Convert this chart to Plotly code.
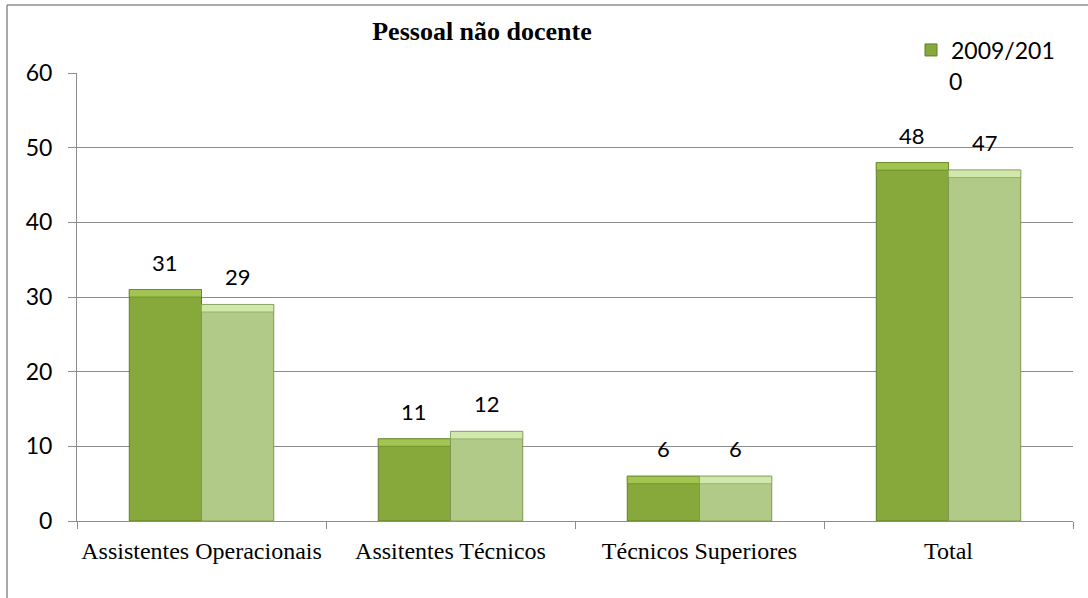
import plotly.graph_objects as go

categories = ["Assistentes Operacionais", "Assitentes Técnicos", "Técnicos Superiores", "Total"]
series1_name = "2009/201"
series1 = [31, 11, 6, 48]
series2 = [29, 12, 6, 47]
y_ticks = [0, 10, 20, 30, 40, 50, 60]

bevel = 1.0
SANS = "Lato, sans-serif"
SERIF = "Liberation Serif, Times New Roman, serif"

ML, MT = 77, 73
PW, PH = 996, 448
W, H = 1088, 598
MR = W - ML - PW
MB = H - MT - PH
BARGAP = 0.42
half_bar = PW / len(categories) * (1 - BARGAP) / 4

fig = go.Figure()
fig.add_trace(go.Bar(
    x=categories, y=series1, name=series1_name, offsetgroup="a",
    marker=dict(color="#87A93B", line=dict(color="#5E7E26", width=1)),
    showlegend=True,
))
fig.add_trace(go.Bar(
    x=categories, y=[bevel] * len(series1), base=[v - bevel for v in series1],
    offsetgroup="a", marker=dict(color="#A2C451", line=dict(color="#5E7E26", width=0.6)),
    showlegend=False, hoverinfo="skip",
))
fig.add_trace(go.Bar(
    x=categories, y=series2, name="2010/2011", offsetgroup="b",
    marker=dict(color="#B2CA87", line=dict(color="#7C9853", width=1)),
    showlegend=False,
))
fig.add_trace(go.Bar(
    x=categories, y=[bevel] * len(series2), base=[v - bevel for v in series2],
    offsetgroup="b", marker=dict(color="#D2E7AC", line=dict(color="#7C9853", width=0.6)),
    showlegend=False, hoverinfo="skip",
))

annotations = []
for cat, v1, v2 in zip(categories, series1, series2):
    for v, dx in ((v1, -half_bar), (v2, half_bar)):
        annotations.append(dict(text=str(v), x=cat, y=v, xref="x", yref="y",
                                xshift=dx, yshift=12, showarrow=False,
                                xanchor="center", yanchor="bottom",
                                font=dict(family=SANS, size=22, color="#000000")))
annotations.append(dict(text="0", xref="paper", yref="paper", x=(955 - ML) / PW, y=(H - MB - 81) / PH,
                        showarrow=False, xanchor="center", yanchor="middle",
                        font=dict(family=SANS, size=23, color="#000000")))

fig.update_layout(
    width=W, height=H,
    margin=dict(l=ML, r=MR, t=MT, b=MB, autoexpand=False),
    paper_bgcolor="white", plot_bgcolor="white",
    barmode="group", bargap=BARGAP, bargroupgap=0,
    title=dict(text="<b>Pessoal não docente</b>", x=482 / W, xanchor="center",
               y=1 - 31 / H, yanchor="middle",
               font=dict(family=SERIF, size=26, color="#000000")),
    legend=dict(xref="container", yref="container", x=911 / W, y=1 - 50 / H,
                xanchor="left", yanchor="middle", bgcolor="rgba(0,0,0,0)",
                font=dict(family=SANS, size=23, color="#000000"),
                itemwidth=30, tracegroupgap=0),
    showlegend=True,
    xaxis=dict(showline=True, linecolor="#8C8C8C", linewidth=1,
               ticks="outside", ticklen=7, tickcolor="#8C8C8C", tickson="boundaries",
               tickangle=0, ticklabelstandoff=8,
               tickfont=dict(family=SERIF, size=24, color="#000000"),
               showgrid=False),
    yaxis=dict(range=[0, 60], tickvals=y_ticks, showline=True, linecolor="#8C8C8C", linewidth=1,
               ticks="outside", ticklen=8, tickcolor="#8C8C8C",
               gridcolor="#8C8C8C", gridwidth=1, zeroline=False,
               ticklabelstandoff=11,
               tickfont=dict(family=SANS, size=23, color="#000000")),
    annotations=annotations,
    shapes=[
        dict(type="line", xref="paper", yref="paper", x0=-70 / PW, x1=1.2, y0=1 + 68 / PH, y1=1 + 68 / PH,
             line=dict(color="#8C8C8C", width=1.5)),
        dict(type="line", xref="paper", yref="paper", x0=-70 / PW, x1=-70 / PW, y0=1 + 68 / PH, y1=-0.3,
             line=dict(color="#8C8C8C", width=1.5)),
    ],
)

fig.write_html("out.html", config={"displayModeBar": False},
               post_script="document.body.style.margin='0';")
